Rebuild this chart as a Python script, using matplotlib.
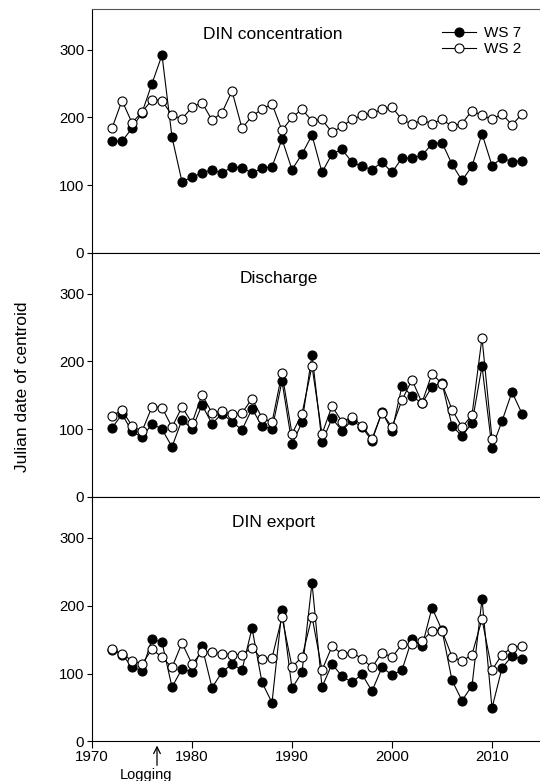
import numpy as np
import matplotlib.pyplot as plt

plt.rcParams['font.family'] = ['Liberation Sans', 'DejaVu Sans']

years = np.arange(1972, 2014)

# DIN concentration centroid (Julian day)
conc_ws7 = [165, 165, 184, 207, 250, 292, 171, 105, 112, 118, 123, 118, 127, 126,
            118, 125, 127, 168, 123, 146, 174, 119, 146, 153, 134, 128, 123, 134,
            119, 140, 140, 144, 161, 163, 131, 107, 128, 176, 129, 140, 135, 136]
conc_ws2 = [184, 225, 192, 208, 226, 225, 203, 198, 215, 222, 196, 207, 239, 184,
            202, 212, 220, 181, 200, 212, 195, 197, 178, 187, 197, 203, 206, 212,
            215, 197, 190, 196, 191, 197, 187, 191, 210, 203, 197, 205, 189, 205]

# Discharge centroid
dis_ws7 = [102, 122, 97, 88, 108, 100, 74, 114, 100, 136, 108, 123, 111, 99,
           130, 105, 100, 171, 78, 110, 210, 81, 116, 98, 113, 103, 83, 126,
           97, 164, 149, 138, 163, 168, 105, 90, 109, 193, 72, 112, 155, 123]
dis_ws2 = [120, 128, 105, 97, 133, 132, 103, 133, 109, 151, 124, 127, 122, 124,
           145, 117, 110, 183, 93, 123, 193, 93, 134, 111, 118, 105, 86, 124,
           103, 143, 173, 139, 182, 167, 129, 103, 121, 235, 86,
           np.nan, np.nan, np.nan]

# DIN export centroid
exp_ws7 = [134, 128, 110, 104, 151, 146, 80, 107, 102, 140, 79, 102, 114, 105,
           167, 87, 57, 194, 78, 102, 234, 80, 114, 96, 87, 99, 74, 109,
           98, 105, 151, 140, 197, 164, 90, 60, 82, 210, 49, 108, 126, 121]
exp_ws2 = [136, 129, 119, 114, 136, 124, 109, 145, 114, 132, 132, 129, 128, 128,
           138, 121, 123, 183, 110, 124, 184, 105, 140, 129, 131, 122, 109, 131,
           124, 143, 143, 148, 163, 163, 125, 118, 128, 180, 105, 128, 138, 141]

panels = [("DIN concentration", conc_ws7, conc_ws2, 1981.1),
          ("Discharge", dis_ws7, dis_ws2, 1984.8),
          ("DIN export", exp_ws7, exp_ws2, 1984.0)]

fig = plt.figure(figsize=(5.4, 7.81), dpi=100)

left = 92 / 540
width = 450 / 540
tops = [9, 253, 497.3]
h = 244

axes = []
for i, (title, ws7, ws2, tx) in enumerate(panels):
    bottom = 1 - (tops[i] + h) / 781
    ax = fig.add_axes([left, bottom, width, h / 781])
    ax.plot(years, ws7, '-o', color='black', lw=0.8, ms=6.5,
            mfc='black', mec='black', mew=0.8, label='WS 7', zorder=2)
    ax.plot(years, ws2, '-o', color='black', lw=0.8, ms=6.5,
            mfc='white', mec='black', mew=0.8, label='WS 2', zorder=3)
    ax.set_xlim(1970, 2015)
    ax.set_ylim(0, 360)
    ax.set_yticks([0, 100, 200, 300])
    ax.set_xticks([1970, 1980, 1990, 2000, 2010])
    ax.tick_params(axis='y', direction='out', length=3.5, width=0.8,
                   labelsize=10.8, pad=2)
    ax.tick_params(axis='x', direction='out', length=5, width=0.8,
                   labelsize=10.8, pad=1.5)
    for s in ax.spines.values():
        s.set_linewidth(0.8)
    ax.text(tx, 323, title, fontsize=12.5, va='center', ha='left')
    if i < 2:
        ax.tick_params(axis='x', labelbottom=False)
    axes.append(ax)

axes[0].spines['top'].set_color('#555555')

axes[0].legend(loc='upper left', bbox_to_anchor=(0.765, 0.955), frameon=False,
               fontsize=11, handlelength=2.2, handletextpad=0.5,
               labelspacing=0.15, borderaxespad=0)

fig.text(23 / 540, 1 - 387 / 781, 'Julian date of centroid', rotation=90,
         fontsize=12.5, ha='center', va='center')

# logging arrow under the x axis
axes[2].annotate('', xy=(1976.5, -0.006), xytext=(1976.5, -0.11),
                 xycoords=('data', 'axes fraction'),
                 textcoords=('data', 'axes fraction'),
                 arrowprops=dict(arrowstyle='->', color='black', lw=0.9,
                                 mutation_scale=12),
                 annotation_clip=False)
axes[2].text(1975.4, -0.138, 'Logging', fontsize=10.5, ha='center', va='center',
             transform=axes[2].get_xaxis_transform(), clip_on=False)

fig.savefig('out.png', dpi=100)
